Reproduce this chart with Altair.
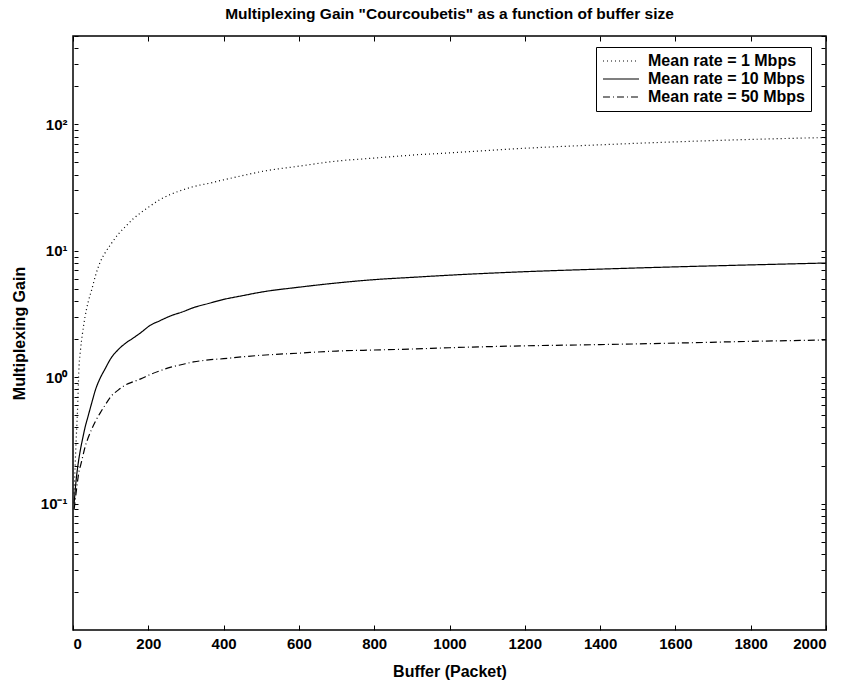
import altair as alt
import pandas as pd

# ---- data ----
buffer = [3, 8, 12, 16, 20, 25, 32, 40, 50, 60, 72, 85, 100, 120, 140, 160, 180,
          205, 230, 260, 290, 320, 360, 400, 450, 500, 600, 700, 800, 900, 1000,
          1200, 1400, 1600, 1800, 2000]

gain_1mbps = [0.12, 0.3, 0.55, 1.2, 1.65, 2.2, 3.0, 3.9, 4.95, 6.4, 8.1, 9.6, 11.2,
              13.5, 15.6, 17.9, 20.0, 22.6, 25.3, 28.0, 30.2, 32.2, 34.1, 36.4,
              39.3, 42.3, 46.7, 51.2, 54.1, 57.1, 59.5, 64.7, 68.9, 72.7, 76.0, 78.7]

gain_10mbps = [0.1, 0.15, 0.19, 0.23, 0.27, 0.32, 0.4, 0.49, 0.63, 0.8, 0.98, 1.16,
               1.4, 1.65, 1.86, 2.04, 2.25, 2.57, 2.79, 3.06, 3.28, 3.55, 3.83, 4.12,
               4.41, 4.71, 5.15, 5.56, 5.91, 6.16, 6.41, 6.83, 7.16, 7.46, 7.73, 8.0]

gain_50mbps = [0.09, 0.12, 0.15, 0.18, 0.2, 0.23, 0.28, 0.33, 0.39, 0.45, 0.52, 0.6,
               0.7, 0.79, 0.87, 0.92, 0.97, 1.05, 1.12, 1.2, 1.26, 1.32, 1.37, 1.4,
               1.45, 1.49, 1.55, 1.61, 1.64, 1.67, 1.71, 1.77, 1.81, 1.86, 1.92, 1.97]

series_labels = ["Mean rate = 1 Mbps", "Mean rate = 10 Mbps", "Mean rate = 50 Mbps"]

x_ticks = [0, 200, 400, 600, 800, 1000, 1200, 1400, 1600, 1800, 2000]
y_major = [0.1, 1, 10, 100]
y_minor = [m * d for d in [0.01, 0.1, 1, 10, 100] for m in range(2, 10) if m * d <= 500]
y_ticks = sorted(y_major + y_minor)

rows = []
for name, vals in zip(series_labels, [gain_1mbps, gain_10mbps, gain_50mbps]):
    for b, g in zip(buffer, vals):
        rows.append({"buffer": b, "gain": g, "series": name})
df = pd.DataFrame(rows)

FONT = "Liberation Sans"
TTL = dict(titleFont=FONT, titleFontSize=16, titleFontWeight="bold",
           titleColor="black")
BASE = dict(labelFont=FONT, labelFontWeight="bold", labelColor="black",
            tickColor="black", tickWidth=1)

x_scale = alt.Scale(domain=[0, 2000], nice=False, zero=False)
y_scale = alt.Scale(type="log", domain=[0.01, 500], nice=False)

label_expr = ("datum.value == 100 ? '10²' : datum.value == 10 ? '10¹' : "
              "datum.value == 1 ? '10⁰' : datum.value == 0.1 ? '10⁻¹' : ''")

lines = alt.Chart(df).mark_line(
    color="black", strokeWidth=1.2, interpolate="monotone", clip=True
).encode(
    x=alt.X("buffer:Q", scale=x_scale,
            axis=alt.Axis(orient="bottom", values=x_ticks, offset=-5, tickSize=5,
                          domain=False, grid=False, labelPadding=6, format="d",
                          labelFontSize=15, title="Buffer (Packet)",
                          titlePadding=12, **BASE, **TTL)),
    y=alt.Y("gain:Q", scale=y_scale,
            axis=alt.Axis(orient="left", values=y_ticks, offset=-5, tickSize=4,
                          domain=False, grid=False, labelPadding=7,
                          labelFontSize=15, labelExpr=label_expr,
                          title="Multiplexing Gain", titlePadding=13,
                          **BASE, **TTL)),
    strokeDash=alt.StrokeDash(
        "series:N",
        scale=alt.Scale(domain=series_labels, range=[[1, 3], [1, 0], [7, 3, 1, 3]]),
        legend=alt.Legend(title=None, orient="none", legendX=523, legendY=11,
                          strokeColor="black", fillColor="white", padding=6,
                          symbolType="stroke", symbolSize=1300, clipHeight=16,
                          symbolStrokeWidth=1.2, symbolStrokeColor="black",
                          labelFont=FONT, labelFontSize=16, labelFontWeight="bold",
                          labelColor="black", rowPadding=2, labelOffset=8,
                          cornerRadius=0)
    ),
)

frame = alt.Chart(df).mark_line(opacity=0).encode(
    x=alt.X("buffer:Q", scale=x_scale,
            axis=alt.Axis(orient="top", values=x_ticks, offset=-5, tickSize=5,
                          domain=False, grid=False, labels=False, title=None,
                          tickColor="black")),
    y=alt.Y("gain:Q", scale=y_scale,
            axis=alt.Axis(orient="right", values=y_ticks, offset=-5, tickSize=4,
                          domain=False, grid=False, labels=False, title=None,
                          tickColor="black")),
    detail="series:N",
)

chart = alt.layer(lines, frame).resolve_axis(
    x="independent", y="independent"
).properties(
    width=753,
    height=594,
    padding={"left": 73, "top": 36, "right": 21, "bottom": 64},
    autosize=alt.AutoSizeParams(type="none"),
    background="white",
    title=alt.TitleParams(
        'Multiplexing Gain "Courcoubetis" as a function of buffer size',
        font=FONT, fontSize=15.5, fontWeight="bold", color="black",
        anchor="middle", frame="group", offset=13),
).configure_view(
    stroke="black", strokeWidth=1.5
)

chart.save("out.html", embed_options={"renderer": "svg", "actions": False})
